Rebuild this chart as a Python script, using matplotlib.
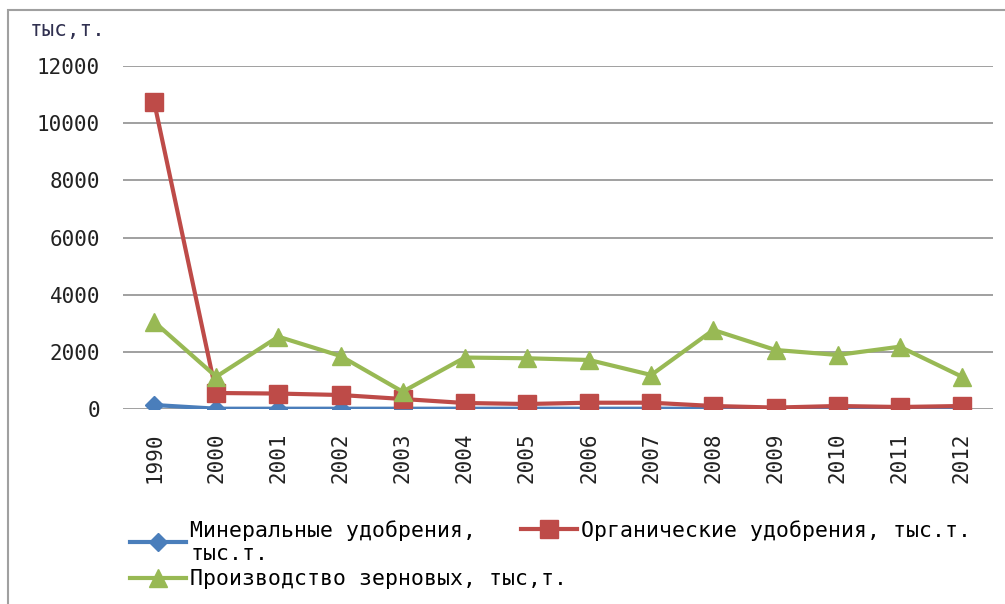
import numpy as np
import matplotlib
matplotlib.use("Agg")
import matplotlib.pyplot as plt
from matplotlib.patches import Rectangle

years = ["1990", "2000", "2001", "2002", "2003", "2004", "2005", "2006",
         "2007", "2008", "2009", "2010", "2011", "2012"]
mineral = [140, 10, 10, 10, 10, 10, 10, 10, 10, 10, 10, 10, 10, 10]
organic = [10750, 560, 540, 490, 350, 210, 175, 220, 220, 105, 50, 105, 70, 105]
grain = [3050, 1130, 2530, 1855, 605, 1800, 1775, 1715, 1190, 2765, 2065, 1890, 2180, 1130]

plt.rcParams['font.family'] = ['DejaVu Sans Mono']

fig = plt.figure(figsize=(10.05, 6.04), dpi=100)
ax = fig.add_axes([123/1005, 1-409/604, 870/1005, 343/604])

x = np.arange(len(years))
l1, = ax.plot(x, mineral, color='#4A7EBB', lw=3, marker='D', ms=9, label='Минеральные удобрения,\nтыс.т.', zorder=3)
l2, = ax.plot(x, organic, color='#BE4B48', lw=3, marker='s', ms=13, label='Органические удобрения, тыс.т.', zorder=4)
l3, = ax.plot(x, grain, color='#98B954', lw=3, marker='^', ms=13, label='Производство зерновых, тыс,т.', zorder=5)

ax.set_xlim(-0.5, len(years) - 0.5)
ax.set_ylim(0, 12000)
ax.set_yticks(np.arange(0, 12001, 2000))
ax.set_xticks(x)
ax.set_xticklabels(years, rotation=90)
ax.tick_params(axis='both', length=0, labelsize=15, colors='#222222')
ax.tick_params(axis='y', pad=16.5)
ax.tick_params(axis='x', pad=17)
for s in ax.spines.values():
    s.set_visible(False)
ax.grid(axis='y', color='#999999', lw=1.3)
ax.set_axisbelow(True)

fig.text(30/1005, 1-30/604, 'тыс,т.', fontsize=15, color='#303050', va='center')

# Excel-like legend: two overlapping columns
leg_kw = dict(loc='upper left', frameon=False, fontsize=15.5, handlelength=2.6,
              handletextpad=0.2, labelspacing=0.25, borderaxespad=0, borderpad=0)
leg1 = fig.legend(handles=[l1, l3], bbox_to_anchor=(130/1005, 1-520/604), **leg_kw)
leg2 = fig.legend(handles=[l2], bbox_to_anchor=(521/1005, 1-520/604), **leg_kw)

fig.patches.append(Rectangle((8/1005, -0.1), 1.1, 1-10/604 + 0.1, transform=fig.transFigure,
                             fill=False, edgecolor='#a0a0a0', lw=1.5))

fig.savefig('out.png', dpi=100)
